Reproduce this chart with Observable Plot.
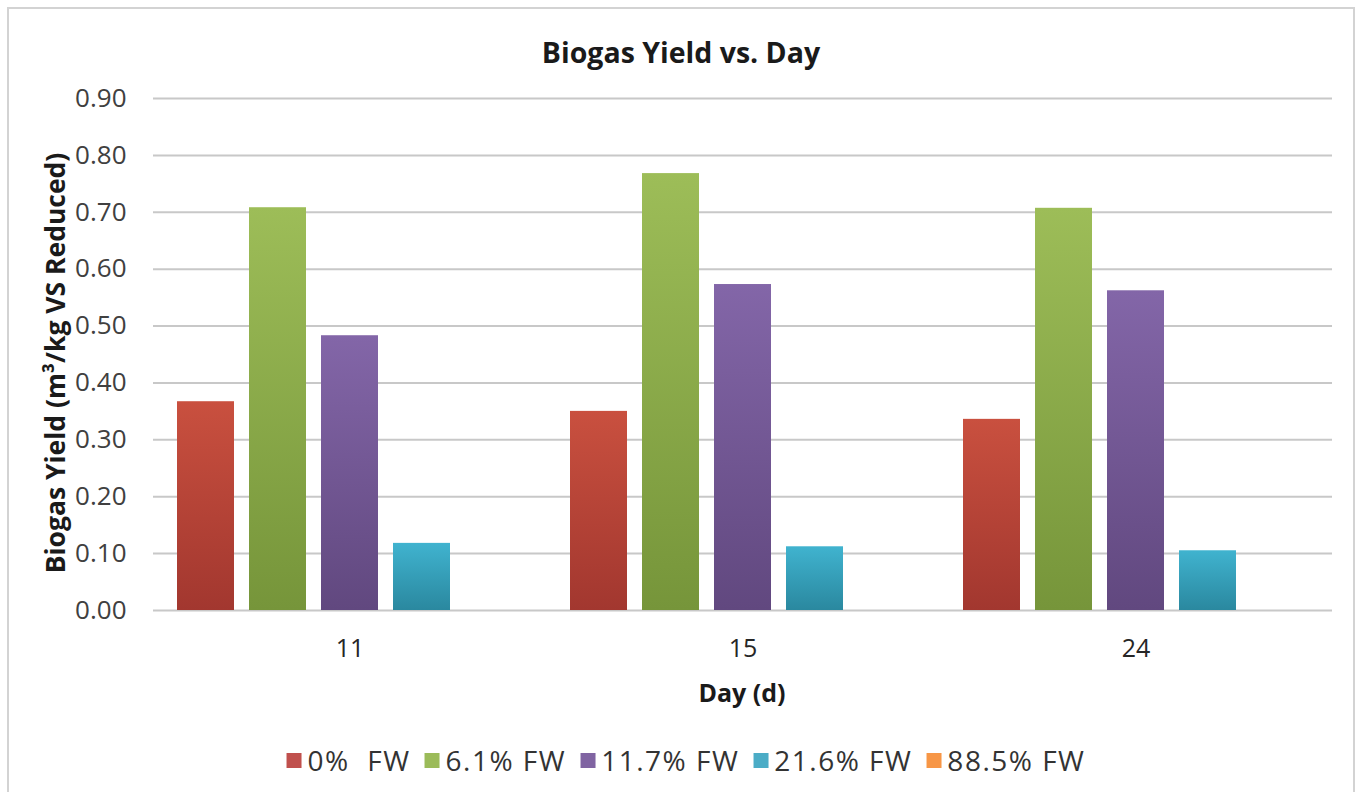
<!DOCTYPE html>
<html><head><meta charset="utf-8">
<script src="https://cdn.jsdelivr.net/npm/d3@7"></script>
<script src="https://cdn.jsdelivr.net/npm/@observablehq/plot@0.6"></script>
<style>
body{margin:0;background:#fff;font-family:"Open Sans",sans-serif;}
#wrap{position:relative;width:1356px;height:792px;overflow:hidden;background:#fff}
#frame{position:absolute;left:7px;top:7px;width:1348px;height:800px;border:2px solid #d3d3d3;box-sizing:border-box}
#chart{position:absolute;left:0;top:0}
.t{position:absolute;white-space:pre;font-weight:700;color:#1a1a1a;line-height:1}
#title{left:7px;width:1348px;top:52px;transform:translateY(-50%);text-align:center;font-size:28.5px}
#ylab{left:55px;top:363px;transform:translate(-50%,-50%) rotate(-90deg);font-size:26.5px}
#xlab{left:742px;top:692px;transform:translate(-50%,-50%);font-size:25px}
#legend{position:absolute;left:686px;top:760px;transform:translate(-50%,-50%);display:flex;gap:14px;align-items:center;font-size:28px;letter-spacing:1.5px;color:#333;white-space:pre}
#legend .it{display:flex;align-items:center;gap:6px}
#legend .sw{width:15px;height:15px}
</style>
</head><body>
<div id="wrap">
  <div id="frame"></div>
  <div id="chart"></div>
  <div class="t" id="title"></div>
  <div class="t" id="ylab"></div>
  <div class="t" id="xlab"></div>
  <div id="legend"></div>
</div>
<script>
const title = "Biogas Yield vs. Day";
const yLabel = "Biogas Yield (m³/kg VS Reduced)";
const xLabel = "Day (d)";
const days = ["11", "15", "24"];
const series = ["0%  FW", "6.1% FW", "11.7% FW", "21.6% FW", "88.5% FW"];
const fw0 = [0.367, 0.350, 0.336];
const fw61 = [0.708, 0.768, 0.707];
const fw117 = [0.483, 0.573, 0.562];
const fw216 = [0.118, 0.112, 0.105];
const fw885 = [0, 0, 0];
const yTicks = [0, 0.1, 0.2, 0.3, 0.4, 0.5, 0.6, 0.7, 0.8, 0.9];
const colorsTop = ["#c9503f", "#9dbd58", "#8366a8", "#40b3cf", "#f79646"];
const colorsBottom = ["#a2372f", "#76953a", "#61487f", "#2a889f", "#d9772a"];
const colorsMid = ["#c0504d", "#9bbb59", "#8064a2", "#4bacc6", "#f79646"];

const values = [fw0, fw61, fw117, fw216, fw885];
const rows = [];
days.forEach((d, i) => series.forEach((s, j) => rows.push({day: d, series: s, value: values[j][i]})));

const chart = Plot.plot({
  width: 1356,
  height: 700,
  marginLeft: 153,
  marginRight: 24,
  marginTop: 98,
  marginBottom: 90,
  style: {fontFamily: "Open Sans", background: "transparent", color: "#333"},
  fx: {domain: days, padding: 0},
  x: {domain: series, axis: null, paddingInner: 0.21, paddingOuter: 0.32},
  y: {domain: [0, 0.9], axis: null},
  marks: [
    Plot.gridY(yTicks, {stroke: "#c8c8c8", strokeOpacity: 1, strokeWidth: 2}),
    ...series.map((s, j) => Plot.barY(rows.filter(r => r.series === s), {fx: "day", x: "series", y: "value", fill: `url(#g${j})`})),
    Plot.axisY(yTicks, {tickSize: 0, tickPadding: 27, tickFormat: d3.format(".2f"), fontSize: 26, fill: "#404040", label: null}),
    Plot.axisFx({anchor: "bottom", tickSize: 0, tickPadding: 29, fontSize: 25, fill: "#262626", label: null})
  ]
});
const defs = d3.select(chart).insert("defs", ":first-child");
colorsTop.forEach((c, j) => {
  const g = defs.append("linearGradient").attr("id", `g${j}`).attr("x1", 0).attr("y1", 0).attr("x2", 0).attr("y2", 1);
  g.append("stop").attr("offset", "0%").attr("stop-color", c);
  g.append("stop").attr("offset", "100%").attr("stop-color", colorsBottom[j]);
});
document.getElementById("chart").appendChild(chart);
document.getElementById("title").textContent = title;
document.getElementById("ylab").textContent = yLabel;
document.getElementById("xlab").textContent = xLabel;
const leg = document.getElementById("legend");
series.forEach((s, j) => {
  const it = document.createElement("div"); it.className = "it";
  const sw = document.createElement("div"); sw.className = "sw"; sw.style.background = colorsMid[j];
  const tx = document.createElement("span"); tx.textContent = s;
  it.appendChild(sw); it.appendChild(tx); leg.appendChild(it);
});
</script>
</body></html>
